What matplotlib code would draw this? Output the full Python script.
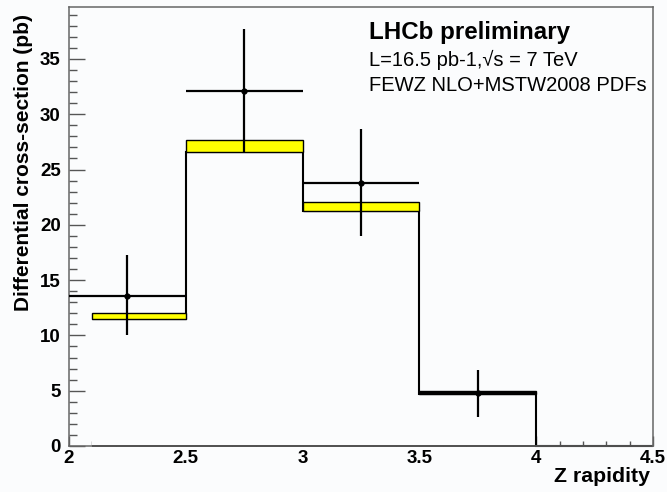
import matplotlib
matplotlib.use("Agg")
import matplotlib.pyplot as plt
from matplotlib.ticker import MultipleLocator
import numpy as np

plt.rcParams['font.family'] = ['Liberation Sans', 'DejaVu Sans']

# theory prediction (FEWZ NLO + MSTW2008), band low/high per bin
th_edges = [2.1, 2.5, 3.0, 3.5, 4.0, 4.5]
th_low = [11.5, 26.55, 21.25, 4.7, 0.0]
th_high = [12.0, 27.65, 22.05, 4.97, 0.0]

# LHCb data
data_x = [2.25, 2.75, 3.25, 3.75]
data_xerr = [0.25, 0.25, 0.25, 0.25]
data_y = [13.6, 32.1, 23.8, 4.75]
data_err_lo = [3.6, 5.6, 4.8, 2.15]
data_err_hi = [3.7, 5.6, 4.9, 2.1]

bg = '#fbfcfd'
fig = plt.figure(figsize=(6.67, 4.92), dpi=100, facecolor=bg)
ax = fig.add_axes([0.1034, 0.0935, 0.8756, 0.8923], facecolor=bg)
ax.set_axisbelow(True)

edges = np.array(th_edges)
lo = np.array(th_low)
hi = np.array(th_high)

# white-filled histogram hides ticks under it
ax.stairs(lo, edges, baseline=0, fill=True, color=bg, zorder=1)
ax.stairs(lo, edges, baseline=None, color='black', lw=1.5, zorder=2, clip_on=False)
ax.hlines(0, edges[0], edges[-1], color='black', lw=1.3, zorder=2, clip_on=False)
# yellow uncertainty band with black border
mask = hi > lo
ax.bar(edges[:-1][mask], (hi - lo)[mask], width=np.diff(edges)[mask], bottom=lo[mask],
       align='edge', facecolor='#ffff00', edgecolor='black', lw=1.0, zorder=3)

ax.errorbar(data_x, data_y, xerr=data_xerr, yerr=[data_err_lo, data_err_hi],
            fmt='o', ms=3.5, color='black', ecolor='black', elinewidth=1.6, capsize=0, zorder=4)

ax.set_xlim(2, 4.5)
ax.set_ylim(0, 39.7)
ax.xaxis.set_major_locator(MultipleLocator(0.5))
ax.xaxis.set_minor_locator(MultipleLocator(0.1))
ax.yaxis.set_major_locator(MultipleLocator(5))
ax.yaxis.set_minor_locator(MultipleLocator(1))
ax.xaxis.set_major_formatter(matplotlib.ticker.FormatStrFormatter('%g'))

for s in ax.spines.values():
    s.set_color('#666666')
    s.set_linewidth(1.1)

ax.tick_params(axis='both', which='both', direction='in', color='#555555', width=1.0,
               labelsize=13.5)
ax.tick_params(axis='y', which='major', length=11.5, pad=6)
ax.tick_params(axis='y', which='minor', length=6)
ax.tick_params(axis='x', which='major', length=7, pad=3)
ax.tick_params(axis='x', which='minor', length=3.8)
for lab in ax.get_xticklabels() + ax.get_yticklabels():
    lab.set_fontweight('bold')

ax.set_ylabel('Differential cross-section (pb)', fontsize=15, fontweight='bold', loc='top')
ax.yaxis.set_label_coords(-0.077, 0.985)
ax.yaxis.label.set_va('center')
ax.set_xlabel('Z rapidity', fontsize=15.3, fontweight='bold', loc='right')
ax.xaxis.set_label_coords(0.995, -0.07)
ax.xaxis.label.set_va('center')

ax.text(0.514, 0.941, 'LHCb preliminary', transform=ax.transAxes, fontsize=17.4,
        fontweight='bold', va='center', ha='left')
ax.text(0.514, 0.879, 'L=16.5 pb-1,\u221as = 7 TeV', transform=ax.transAxes, fontsize=14.5,
        va='center', ha='left')
ax.text(0.514, 0.822, 'FEWZ NLO+MSTW2008 PDFs', transform=ax.transAxes, fontsize=14.5,
        va='center', ha='left')

fig.savefig('out.png', dpi=100, facecolor=bg)
